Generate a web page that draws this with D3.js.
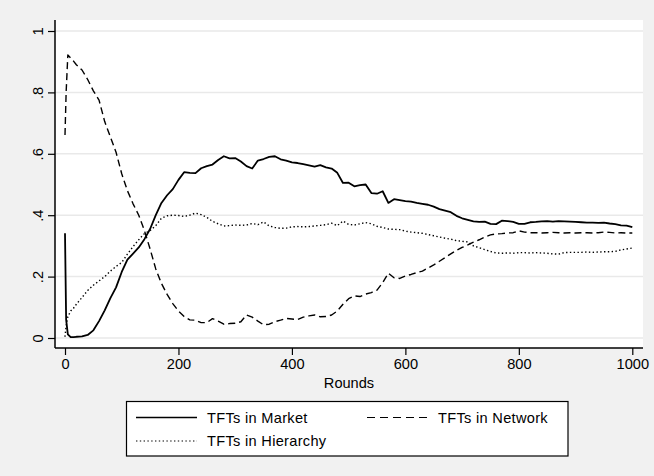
<!DOCTYPE html>
<html>
<head>
<meta charset="utf-8">
<script src="https://cdn.jsdelivr.net/npm/d3@7"></script>
<style>
  body { margin: 0; background: #f1f1f1; }
  svg { display: block; font-family: "Liberation Sans", Arial, sans-serif; }
</style>
</head>
<body>
<svg id="canvas" width="654" height="476"></svg>
<script>
// x grid (rounds)
let rounds = [0, 2, 5, 10, 15, 20, 30, 40, 50, 60, 70, 80, 90, 100,
  110, 120, 130, 140, 150, 160, 170, 180, 190, 200, 210, 220, 230, 240, 250,
  260, 270, 280, 290, 300, 310, 320, 330, 340, 350, 360, 370, 380, 390, 400,
  410, 420, 430, 440, 450, 460, 470, 480, 490, 500, 510, 520, 530, 540, 550,
  560, 570, 580, 590, 600, 610, 620, 630, 640, 650, 660, 670, 680, 690, 700,
  710, 720, 730, 740, 750, 760, 770, 780, 790, 800, 810, 820, 830, 840, 850,
  860, 870, 880, 890, 900, 910, 920, 930, 940, 950, 960, 970, 980, 990, 1000];

let market = [0.341, 0.06, 0.012, 0.003, 0.003, 0.004, 0.005, 0.010, 0.025, 0.055, 0.090, 0.130, 0.165, 0.215,
  0.255, 0.275, 0.295, 0.322, 0.355, 0.400, 0.440, 0.465, 0.485, 0.515, 0.540, 0.538, 0.537, 0.553, 0.560,
  0.565, 0.580, 0.592, 0.585, 0.586, 0.575, 0.560, 0.552, 0.578, 0.583, 0.590, 0.592, 0.582, 0.578, 0.572,
  0.570, 0.566, 0.562, 0.558, 0.563, 0.556, 0.552, 0.538, 0.505, 0.506, 0.494, 0.498, 0.500, 0.472, 0.470,
  0.478, 0.440, 0.452, 0.449, 0.446, 0.444, 0.440, 0.437, 0.434, 0.428, 0.420, 0.415, 0.410, 0.398, 0.390,
  0.385, 0.380, 0.378, 0.379, 0.372, 0.371, 0.382, 0.381, 0.378, 0.372, 0.372, 0.377, 0.378, 0.380, 0.381,
  0.379, 0.381, 0.380, 0.379, 0.378, 0.377, 0.376, 0.376, 0.375, 0.376, 0.373, 0.371, 0.367, 0.366, 0.361];

let network = [0.661, 0.80, 0.922, 0.912, 0.902, 0.890, 0.873, 0.842, 0.805, 0.775, 0.705, 0.655, 0.605, 0.535,
  0.480, 0.437, 0.400, 0.350, 0.290, 0.225, 0.178, 0.142, 0.112, 0.088, 0.070, 0.059, 0.058, 0.050, 0.050,
  0.063, 0.055, 0.045, 0.047, 0.048, 0.053, 0.075, 0.068, 0.055, 0.043, 0.045, 0.053, 0.058, 0.064, 0.062,
  0.060, 0.068, 0.072, 0.075, 0.069, 0.070, 0.075, 0.088, 0.110, 0.128, 0.137, 0.135, 0.143, 0.148, 0.156,
  0.180, 0.211, 0.196, 0.194, 0.202, 0.207, 0.213, 0.218, 0.228, 0.238, 0.250, 0.262, 0.274, 0.285, 0.295,
  0.303, 0.312, 0.320, 0.329, 0.336, 0.339, 0.340, 0.342, 0.343, 0.349, 0.345, 0.343, 0.343, 0.342, 0.343,
  0.344, 0.343, 0.342, 0.343, 0.342, 0.343, 0.343, 0.342, 0.343, 0.345, 0.344, 0.342, 0.343, 0.342, 0.342];

let hierarchy = [0.004, 0.040, 0.069, 0.088, 0.097, 0.110, 0.132, 0.155, 0.172, 0.186, 0.200, 0.218, 0.233, 0.246,
  0.273, 0.298, 0.320, 0.340, 0.350, 0.366, 0.390, 0.398, 0.400, 0.399, 0.396, 0.400, 0.407, 0.402, 0.393,
  0.380, 0.372, 0.365, 0.366, 0.368, 0.367, 0.368, 0.373, 0.369, 0.378, 0.365, 0.360, 0.357, 0.358, 0.362,
  0.363, 0.362, 0.363, 0.365, 0.367, 0.369, 0.374, 0.366, 0.381, 0.370, 0.368, 0.372, 0.376, 0.372, 0.364,
  0.360, 0.355, 0.354, 0.353, 0.348, 0.345, 0.343, 0.341, 0.337, 0.333, 0.329, 0.325, 0.322, 0.317, 0.315,
  0.313, 0.300, 0.294, 0.288, 0.282, 0.277, 0.276, 0.277, 0.276, 0.278, 0.278, 0.277, 0.278, 0.277, 0.276,
  0.274, 0.273, 0.278, 0.279, 0.279, 0.279, 0.280, 0.279, 0.280, 0.281, 0.281, 0.282, 0.287, 0.290, 0.293];

let yTicks = [0, 0.2, 0.4, 0.6, 0.8, 1];
let yTickLabels = ["0", ".2", ".4", ".6", ".8", "1"];
let xTicks = [0, 200, 400, 600, 800, 1000];
let legendLabels = ["TFTs in Market", "TFTs in Network", "TFTs in Hierarchy"];

let canvas = d3.select('#canvas');

let plotLeft = 55, plotRight = 643, plotTop = 20, plotBottom = 348;
let fontSize = 14.6;

let xScale = d3.scaleLinear().domain([0, 1000]).range([65, 632.3]);
let yScale = d3.scaleLinear().domain([0, 1]).range([338, 31]);

// plot region
canvas.append('rect')
    .attr('x', plotLeft).attr('y', plotTop)
    .attr('width', plotRight - plotLeft).attr('height', plotBottom - plotTop)
    .attr('fill', 'white');

// grid lines
canvas.selectAll('.grid')
    .data(yTicks)
    .enter()
    .append('line')
    .attr('class', 'grid')
    .attr('x1', plotLeft).attr('x2', plotRight)
    .attr('y1', d => yScale(d)).attr('y2', d => yScale(d))
    .attr('stroke', '#e9e9e9')
    .attr('stroke-width', 1.5);

// series
let series = [
    { values: market, dash: null, width: 1.8 },
    { values: network, dash: '7,4', width: 1.4 },
    { values: hierarchy, dash: '1.4,2.4', width: 1.4 }
];

let line = d3.line()
    .x((d, i) => xScale(rounds[i]))
    .y(d => yScale(d));

canvas.selectAll('.series')
    .data(series)
    .enter()
    .append('path')
    .attr('class', 'series')
    .attr('d', d => line(d.values))
    .attr('fill', 'none')
    .attr('stroke', 'black')
    .attr('stroke-width', d => d.width)
    .attr('stroke-dasharray', d => d.dash)
    .attr('stroke-linejoin', 'round');

// y axis
let yAxis = d3.axisLeft(yScale)
    .tickValues(yTicks)
    .tickSize(7)
    .tickPadding(6)
    .tickFormat((d, i) => yTickLabels[i]);

let yG = canvas.append('g')
    .attr('transform', 'translate(' + plotLeft + ',0)')
    .call(yAxis);
yG.select('.domain').attr('d', 'M0,' + plotTop + 'V' + plotBottom).attr('stroke-width', 1.5);
yG.selectAll('.tick line').attr('stroke-width', 1.2);
yG.selectAll('.tick text')
    .attr('font-size', fontSize)
    .attr('fill', 'black')
    .attr('x', null).attr('dy', null)
    .attr('text-anchor', 'middle')
    .attr('transform', 'translate(-12.5,0) rotate(-90)');

// x axis
let xAxis = d3.axisBottom(xScale)
    .tickValues(xTicks)
    .tickSize(7)
    .tickPadding(4)
    .tickFormat(d3.format('d'));

let xG = canvas.append('g')
    .attr('transform', 'translate(0,' + plotBottom + ')')
    .call(xAxis);
xG.select('.domain').attr('d', 'M' + plotLeft + ',0H' + plotRight).attr('stroke-width', 1.5);
xG.selectAll('.tick line').attr('stroke-width', 1.2);
xG.selectAll('.tick text')
    .attr('font-size', fontSize)
    .attr('fill', 'black');

canvas.append('text')
    .attr('x', 349).attr('y', 388)
    .attr('text-anchor', 'middle')
    .attr('font-size', fontSize)
    .text('Rounds');

// legend
canvas.append('rect')
    .attr('x', 126.5).attr('y', 401.5)
    .attr('width', 441.5).attr('height', 54.5)
    .attr('fill', 'white')
    .attr('stroke', 'black')
    .attr('stroke-width', 1.2);

let legendPos = [
    { x: 136, y: 417.5 },
    { x: 367, y: 417.5 },
    { x: 136, y: 441 }
];

let legend = canvas.selectAll('.legend')
    .data(series)
    .enter()
    .append('g')
    .attr('class', 'legend')
    .attr('transform', (d, i) => 'translate(' + legendPos[i].x + ',' + legendPos[i].y + ')');

legend.append('line')
    .attr('x1', 0).attr('x2', 61)
    .attr('y1', 0).attr('y2', 0)
    .attr('stroke', 'black')
    .attr('stroke-width', d => d.width - 0.3)
    .attr('stroke-dasharray', (d, i) => i === 1 ? '8,5' : d.dash);

legend.append('text')
    .attr('x', 71).attr('y', 5)
    .attr('font-size', fontSize)
    .attr('letter-spacing', 0.3)
    .text((d, i) => legendLabels[i]);
</script>
</body>
</html>
